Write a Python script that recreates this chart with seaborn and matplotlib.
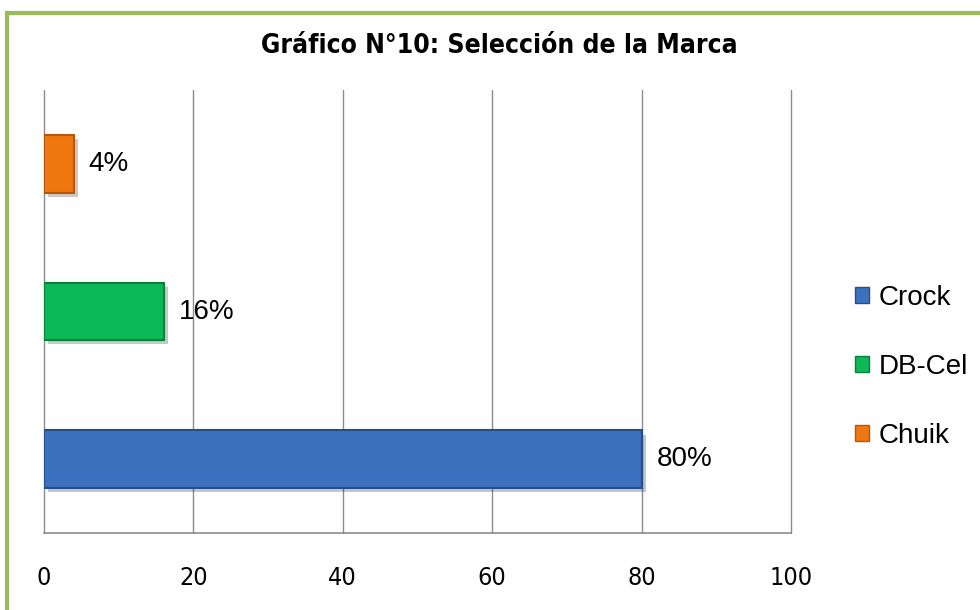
import matplotlib
matplotlib.use('Agg')
import matplotlib.pyplot as plt
import matplotlib.patches as mpatches
import matplotlib.patheffects as pe
import seaborn as sns
import pandas as pd

# datos del grafico
marcas = ['Chuik', 'DB-Cel', 'Crock']
porcentajes = [4, 16, 80]
colores = ['#F0760F', '#0DB858', '#3C71C0']
bordes = ['#B4570A', '#07803C', '#284E88']
orden_leyenda = ['Crock', 'DB-Cel', 'Chuik']
ticks_x = [0, 20, 40, 60, 80, 100]

sns.set_theme(style='white')
plt.rcParams['font.family'] = ['Liberation Sans', 'DejaVu Sans']
plt.rcParams['text.color'] = 'black'
plt.rcParams['xtick.color'] = 'black'

df = pd.DataFrame({'marca': marcas, 'pct': porcentajes})
paleta = dict(zip(marcas, colores))

fig = plt.figure(figsize=(9.8, 6.1), dpi=100)
ax = fig.add_axes([0.0449, 0.1262, 0.7622, 0.7262])

sns.barplot(data=df, x='pct', y='marca', hue='marca', order=marcas,
            palette=paleta, dodge=False, width=0.39, legend=False,
            saturation=1, ax=ax)

for patch, m in zip(ax.patches, marcas):
    patch.set_edgecolor(bordes[marcas.index(m)])
    patch.set_linewidth(1.5)
    patch.set_path_effects([pe.SimplePatchShadow(offset=(3, -3), alpha=0.25), pe.Normal()])

for i, v in enumerate(porcentajes):
    ax.text(v + 2.0, i, f'{v}%', va='center', ha='left', fontsize=20, color='black')

ax.set_xlim(0, 100)
ax.set_ylim(2.5, -0.5)
ax.set_xticks(ticks_x)
ax.set_xticklabels([str(t) for t in ticks_x], family='DejaVu Sans', fontstretch='condensed',
                   fontsize=18)
ax.set_yticks([])
ax.set_xlabel('')
ax.set_ylabel('')
ax.xaxis.grid(True, color='#8C8C8C', linewidth=1)
for g in ax.get_xgridlines():
    g.set_clip_on(False)
ax.set_axisbelow(True)
for s in ['top', 'right', 'left']:
    ax.spines[s].set_visible(False)
ax.spines['bottom'].set_color('#8C8C8C')
ax.spines['bottom'].set_linewidth(1.2)
ax.tick_params(axis='x', direction='out', length=8, color='#8C8C8C', width=1, pad=16)

fig.text(0.51, 0.924, 'Gráfico N°10: Selección de la Marca', ha='center', va='center',
         fontsize=19, fontweight='bold', family='DejaVu Sans', fontstretch='condensed')

handles = [mpatches.Patch(facecolor=paleta[m], edgecolor=bordes[marcas.index(m)], label=m)
           for m in orden_leyenda]
fig.legend(handles=handles, loc='center left', bbox_to_anchor=(0.861, 0.398),
           frameon=False, fontsize=20, handlelength=0.5, handleheight=0.5,
           handletextpad=0.35, labelspacing=1.55, borderaxespad=0)

# marco verde
fig.patches.append(mpatches.Rectangle((7 / 980, -0.1), 1.2, (610 - 13.5) / 610 + 0.1,
                                      transform=fig.transFigure, fill=False,
                                      edgecolor='#9BBB59', linewidth=3))

fig.savefig('out.png', dpi=100)
